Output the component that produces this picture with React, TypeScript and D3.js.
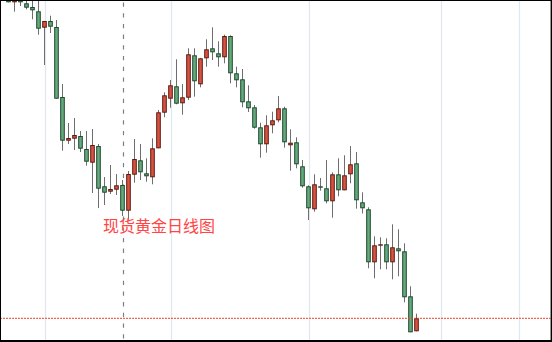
import React from "react";
import * as d3 from "d3";

// Daily spot gold candles, oldest first
const openP = [
  1342, 1338.85, 1341, 1338.35, 1336.5, 1334.35, 1326.15, 1329.5, 1326.5, 1291.5,
  1269.65, 1270.65, 1272, 1265.5, 1258.65, 1267, 1246.85, 1244.15, 1245.15, 1247.5,
  1234.65, 1252.65, 1259.85, 1253.35, 1251.35, 1265.85, 1283.65, 1290.65, 1296.85, 1288.35,
  1291.15, 1312.35, 1297.85, 1310.85, 1315.85, 1313.35, 1311.35, 1322, 1303.35, 1300.35,
  1289.35, 1286.35, 1276.35, 1267.85, 1277.35, 1279.85, 1285.85, 1267.35, 1268.85, 1256.85,
  1246.85, 1235.35, 1246.85, 1245.85, 1239.35, 1252.85, 1244.85, 1252.85, 1258.35, 1238.85,
  1235.35, 1208.85, 1217.35, 1217.85, 1208.85, 1215.85, 1214.35, 1191.85, 1174.35,
];
const highP = [
  1344, 1343, 1342.5, 1340, 1340, 1340, 1329.5, 1332.15, 1330, 1298,
  1278.5, 1281, 1274.5, 1274.5, 1275.5, 1268, 1251.5, 1257.5, 1253, 1250,
  1254.5, 1270.5, 1268, 1260.85, 1270.85, 1285, 1293.85, 1300, 1310.35, 1298,
  1315.85, 1315.85, 1311, 1320.35, 1326.35, 1319.35, 1322.65, 1322.35, 1306.65, 1305.5,
  1297.35, 1287.5, 1278.65, 1282.35, 1284.15, 1292, 1286.65, 1275.35, 1271.35, 1260,
  1247.35, 1252.85, 1251, 1260, 1253.85, 1260.85, 1262.35, 1267, 1264, 1243.85,
  1236.35, 1221.85, 1221.35, 1220.85, 1227.85, 1225.35, 1218.35, 1196.85, 1183.15,
];
const lowP = [
  1338.85, 1334.15, 1337, 1335.35, 1330.35, 1322.65, 1307.5, 1323.5, 1290.65, 1264.65,
  1268, 1265, 1264, 1257.15, 1243.5, 1236, 1237.5, 1243, 1242.5, 1232,
  1230, 1248.65, 1250, 1249.15, 1247.85, 1265.85, 1281.35, 1286.15, 1287.85, 1282.65,
  1290, 1291.65, 1296.35, 1306.65, 1310, 1306.65, 1308.35, 1298.35, 1296.35, 1286.35,
  1284, 1275.65, 1261.15, 1263.65, 1273.35, 1278.85, 1266.15, 1254.65, 1255.85, 1246.15,
  1230, 1234.15, 1244.65, 1238.35, 1231.15, 1241.85, 1244.85, 1248.35, 1235.65, 1233.25,
  1205.85, 1200.85, 1205.35, 1205.35, 1200.35, 1201.85, 1188.85, 1173.85, 1174.35,
];
const closeP = [
  1338.85, 1341.5, 1338.85, 1336.15, 1334.85, 1325.65, 1329.5, 1326.65, 1290.65, 1269.65,
  1271, 1272.5, 1265.65, 1259.15, 1267.5, 1245.65, 1243.65, 1245.5, 1247.35, 1234.65,
  1253, 1260.5, 1253.85, 1251.85, 1265.85, 1283.85, 1292.35, 1297.35, 1288.15, 1291.35,
  1312.85, 1299.35, 1310.85, 1315.35, 1313.85, 1311.35, 1322, 1303.35, 1299.85, 1288.85,
  1285.85, 1276.15, 1267.85, 1277.35, 1279.85, 1285.85, 1268.85, 1268.65, 1257.85, 1246.85,
  1235.85, 1247.85, 1246.15, 1239.35, 1252.85, 1244.85, 1252.35, 1257.85, 1239.85, 1235.85,
  1208.85, 1217.35, 1217.85, 1208.85, 1216.35, 1214.35, 1191.35, 1173.85, 1180.85,
];

// Month separators and crosshair position, as candle indices
const monthStarts = [6, 27, 50, 72, 85];
const crosshairIndex = 19;
const chartTitle = "现货黄金日线图";

const W = 552;
const H = 342;

export default function App() {
  const x = d3.scaleLinear().domain([0, 90]).range([8.5, 548.5]);
  const y = d3.scaleLinear().domain([1170, 1340]).range([340, 0]);

  const lastClose = closeP[closeP.length - 1];
  const candles = d3.range(openP.length).map((i) => ({
    i,
    o: openP[i],
    h: highP[i],
    l: lowP[i],
    c: closeP[i],
  }));

  const bodyW = 3.6;

  return (
    <svg
      width={W}
      height={H}
      style={{ position: "absolute", left: 0, top: 0, background: "#fff" }}
    >
      <defs>
        <clipPath id="plot">
          <rect x={1} y={1} width={549.5} height={339} />
        </clipPath>
      </defs>
      <rect x={0} y={0} width={W} height={H} fill="#fff" />
      <g clipPath="url(#plot)">
        {monthStarts.map((m) => (
          <line
            key={m}
            x1={x(m) + 1}
            x2={x(m) + 1}
            y1={0}
            y2={H}
            stroke="#e2e7ed"
            strokeWidth={1.3}
          />
        ))}
        <line
          x1={x(crosshairIndex) + 1}
          x2={x(crosshairIndex) + 1}
          y1={1}
          y2={H}
          stroke="#7a7f88"
          strokeWidth={1.2}
          strokeDasharray="4.3 6.4"
          strokeDashoffset={-1.5}
        />
        {candles.map((d) => (
          <line
            key={"w" + d.i}
            x1={x(d.i)}
            x2={x(d.i)}
            y1={y(d.h)}
            y2={y(d.l)}
            stroke="#6e6e6e"
            strokeWidth={1}
          />
        ))}
        {candles.map((d) => {
          const up = d.c >= d.o;
          const top = y(Math.max(d.o, d.c));
          const bot = y(Math.min(d.o, d.c));
          const hgt = Math.max(bot - top - 1, 0.4);
          return (
            <rect
              key={"b" + d.i}
              x={x(d.i) - bodyW / 2}
              y={top + 0.5}
              width={bodyW}
              height={hgt}
              fill={up ? "#d9533f" : "#67a97e"}
              stroke={up ? "#5e1a12" : "#1c4a2c"}
              strokeWidth={1}
            />
          );
        })}
        <line
          x1={0}
          x2={W}
          y1={y(lastClose)}
          y2={y(lastClose)}
          stroke="#e8412c"
          strokeWidth={1}
          strokeDasharray="2 1"
        />
        <text
          x={103}
          y={231.5}
          fill="#ff4545"
          fontSize={16}
          fontFamily="'Noto Sans CJK SC', sans-serif"
        >
          {chartTitle}
        </text>
      </g>
      {/* frame */}
      <line x1={0} x2={W} y1={0.5} y2={0.5} stroke="#000" strokeWidth={1} />
      <line x1={0.5} x2={0.5} y1={0} y2={H} stroke="#000" strokeWidth={1} />
      <line x1={551.3} x2={551.3} y1={0} y2={H} stroke="#000" strokeWidth={1.4} />
      <line x1={0} x2={W} y1={341} y2={341} stroke="#000" strokeWidth={2} />
    </svg>
  );
}
